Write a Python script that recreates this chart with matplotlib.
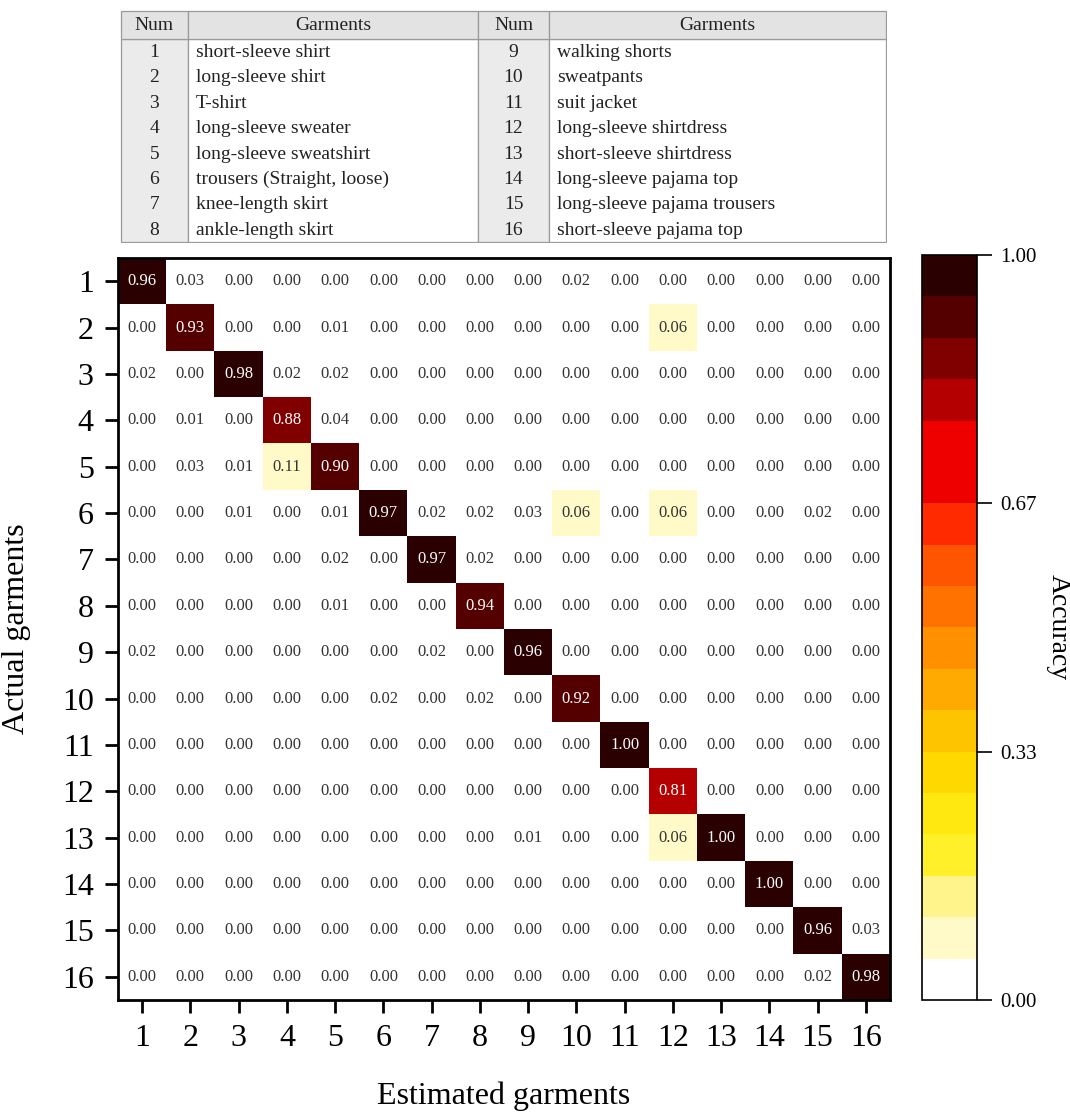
import numpy as np
import matplotlib
matplotlib.use("Agg")
import matplotlib.pyplot as plt
from matplotlib.colors import ListedColormap, BoundaryNorm
from matplotlib.patches import Rectangle

plt.rcParams["font.family"] = ["Liberation Serif", "DejaVu Serif"]

garments = [
    "short-sleeve shirt", "long-sleeve shirt", "T-shirt", "long-sleeve sweater",
    "long-sleeve sweatshirt", "trousers (Straight, loose)", "knee-length skirt",
    "ankle-length skirt", "walking shorts", "sweatpants", "suit jacket",
    "long-sleeve shirtdress", "short-sleeve shirtdress", "long-sleeve pajama top",
    "long-sleeve pajama trousers", "short-sleeve pajama top",
]
labels = [str(i) for i in range(1, 17)]

# rows = actual garment, columns = estimated garment
conf = np.array([
    [0.96, 0.03, 0, 0, 0, 0, 0, 0, 0, 0.02, 0, 0, 0, 0, 0, 0],
    [0, 0.93, 0, 0, 0.01, 0, 0, 0, 0, 0, 0, 0.06, 0, 0, 0, 0],
    [0.02, 0, 0.98, 0.02, 0.02, 0, 0, 0, 0, 0, 0, 0, 0, 0, 0, 0],
    [0, 0.01, 0, 0.88, 0.04, 0, 0, 0, 0, 0, 0, 0, 0, 0, 0, 0],
    [0, 0.03, 0.01, 0.11, 0.90, 0, 0, 0, 0, 0, 0, 0, 0, 0, 0, 0],
    [0, 0, 0.01, 0, 0.01, 0.97, 0.02, 0.02, 0.03, 0.06, 0, 0.06, 0, 0, 0.02, 0],
    [0, 0, 0, 0, 0.02, 0, 0.97, 0.02, 0, 0, 0, 0, 0, 0, 0, 0],
    [0, 0, 0, 0, 0.01, 0, 0, 0.94, 0, 0, 0, 0, 0, 0, 0, 0],
    [0.02, 0, 0, 0, 0, 0, 0.02, 0, 0.96, 0, 0, 0, 0, 0, 0, 0],
    [0, 0, 0, 0, 0, 0.02, 0, 0.02, 0, 0.92, 0, 0, 0, 0, 0, 0],
    [0, 0, 0, 0, 0, 0, 0, 0, 0, 0, 1.00, 0, 0, 0, 0, 0],
    [0, 0, 0, 0, 0, 0, 0, 0, 0, 0, 0, 0.81, 0, 0, 0, 0],
    [0, 0, 0, 0, 0, 0, 0, 0, 0.01, 0, 0, 0.06, 1.00, 0, 0, 0],
    [0, 0, 0, 0, 0, 0, 0, 0, 0, 0, 0, 0, 0, 1.00, 0, 0],
    [0, 0, 0, 0, 0, 0, 0, 0, 0, 0, 0, 0, 0, 0, 0.96, 0.03],
    [0, 0, 0, 0, 0, 0, 0, 0, 0, 0, 0, 0, 0, 0, 0.02, 0.98],
])

# 18-step reversed "hot" palette, low -> high
levels = ["#ffffff", "#fffac8", "#fff48c", "#fff02a", "#ffe810", "#ffd800",
          "#ffc400", "#ffaa00", "#ff9000", "#ff7200", "#ff5500", "#ff2a00",
          "#ee0000", "#ee0000", "#b40000", "#800000", "#550000", "#2a0000"]
cmap = ListedColormap(levels)
norm = BoundaryNorm(np.linspace(0, 1, len(levels) + 1), cmap.N)

fig = plt.figure(figsize=(10.7, 11.12), dpi=100)
W, H = 1070, 1112

# ---- garment key table ----
tw, th = 767, 233
tax = fig.add_axes([120 / W, 1 - 243 / H, tw / W, th / H])
tax.set_xlim(-1, tw + 1)
tax.set_ylim(th + 1, -1)
tax.axis("off")
cols = [0, 67, 358, 429, tw]
hdr_h = 28
row_h = (th - hdr_h) / 8
edge = "#9a9a9a"
for c in range(4):
    x0, x1 = cols[c], cols[c + 1]
    fc = "#ebebeb" if c % 2 == 0 else "white"
    tax.add_patch(Rectangle((x0, hdr_h), x1 - x0, th - hdr_h, fc=fc, ec=edge, lw=0.9))
    tax.add_patch(Rectangle((x0, 0), x1 - x0, hdr_h, fc="#e3e3e3", ec=edge, lw=0.9))
    tax.text((x0 + x1) / 2, hdr_h / 2 + 1, ["Num", "Garments"][c % 2],
             ha="center", va="center", fontsize=14, color="#222222")
for r in range(8):
    y = hdr_h + (r + 0.5) * row_h + 1
    for half in range(2):
        k = r + 8 * half
        x0, x1 = cols[2 * half], cols[2 * half + 1]
        tax.text((x0 + x1) / 2, y, labels[k], ha="center", va="center",
                 fontsize=14, color="#222222")
        tax.text(x1 + 8, y, garments[k], ha="left", va="center",
                 fontsize=14, color="#222222")

# ---- confusion matrix ----
ax = fig.add_axes([118 / W, 1 - 1000 / H, 772 / W, 742 / H])
im = ax.imshow(conf, cmap=cmap, norm=norm, aspect="auto", interpolation="nearest")
for i in range(conf.shape[0]):
    for j in range(conf.shape[1]):
        v = conf[i, j]
        ax.text(j, i, f"{v:.2f}", ha="center", va="center", fontsize=12,
                color="white" if v > 0.5 else "#333333")
ax.set_xticks(range(16))
ax.set_yticks(range(16))
ax.set_xticklabels(labels, fontsize=23)
ax.set_yticklabels(labels, fontsize=23)
ax.tick_params(direction="out", length=9.5, width=2, pad=8)
for s in ax.spines.values():
    s.set_linewidth(2)
ax.set_xlabel("Estimated garments", fontsize=23, labelpad=20)
ax.set_ylabel("Actual garments", fontsize=23, labelpad=22)

cax = fig.add_axes([922 / W, 1 - 1000 / H, 55 / W, 745 / H])
cb = fig.colorbar(im, cax=cax, ticks=[0, 1 / 3, 2 / 3, 1])
cb.minorticks_off()
cb.ax.set_yticklabels(["0.00", "0.33", "0.67", "1.00"], fontsize=15)
cb.ax.tick_params(length=11, width=1.2, pad=6)
cb.outline.set_linewidth(1.2)
cb.set_label("Accuracy", fontsize=20, rotation=270, labelpad=24)

fig.savefig("out.png", dpi=100)
